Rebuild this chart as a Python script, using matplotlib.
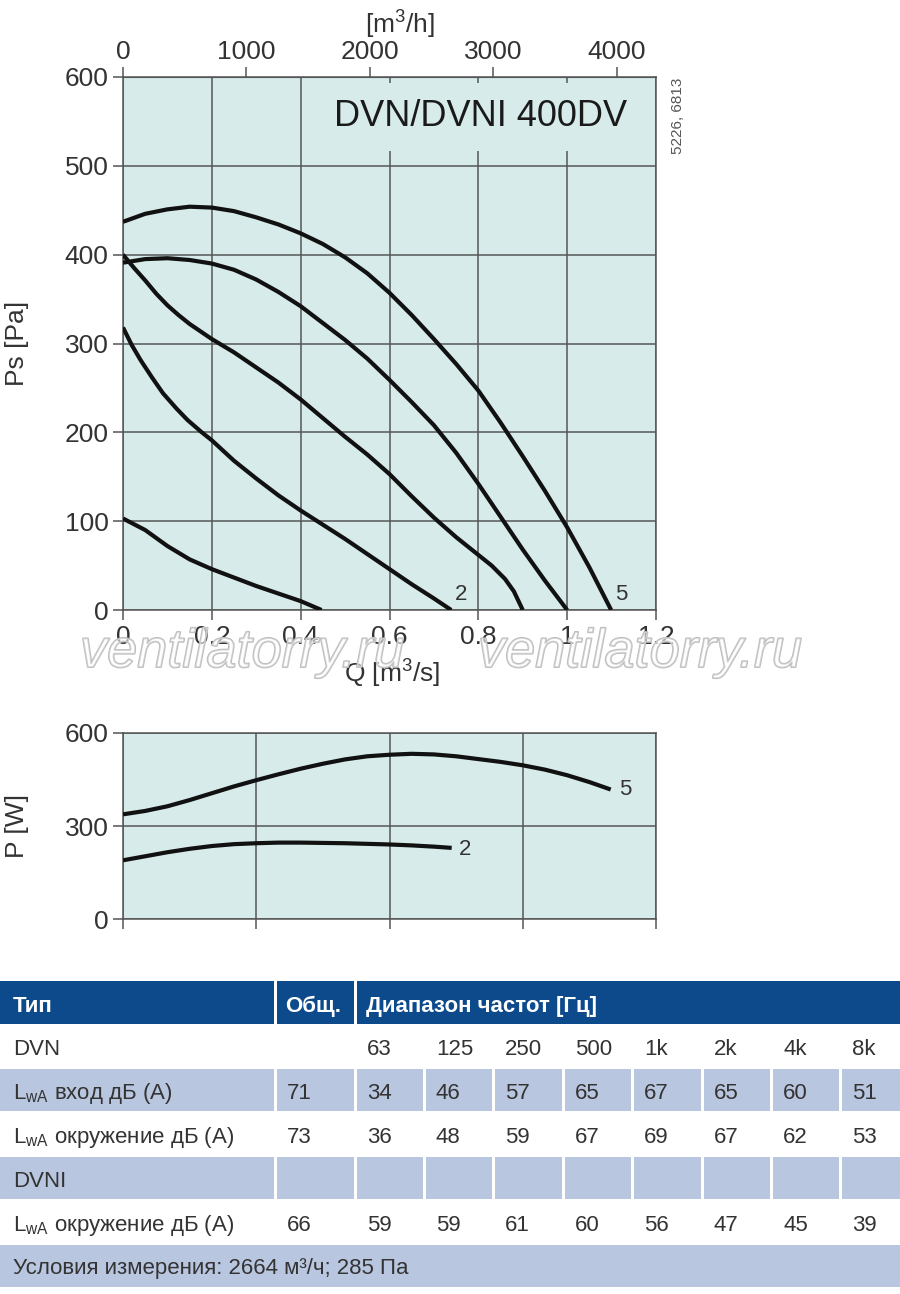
import matplotlib
matplotlib.use('Agg')
import matplotlib.pyplot as plt
import matplotlib.patheffects as pe
from matplotlib.patches import Rectangle

plt.rcParams['font.family'] = ['Liberation Sans', 'DejaVu Sans']
plt.rcParams['mathtext.fontset'] = 'custom'
plt.rcParams['mathtext.rm'] = 'Liberation Sans'
plt.rcParams['mathtext.it'] = 'Liberation Sans:italic'

# --- fan curves: Q [m3/s] -> Ps [Pa], read from the sheet ---
q_c1 = [0, 0.05, 0.1, 0.15, 0.2, 0.25, 0.3, 0.35, 0.4, 0.447]
ps_c1 = [103, 90, 72, 57, 46, 36.5, 27, 18.5, 10, 0]

q_c2 = [0, 0.02, 0.04, 0.065, 0.09, 0.12, 0.145, 0.175, 0.2, 0.25, 0.3, 0.35, 0.4,
        0.45, 0.5, 0.55, 0.6, 0.65, 0.7, 0.739]
ps_c2 = [318, 298, 281, 262, 244, 227, 214, 201, 191, 168, 148, 129, 112,
         96, 80, 63, 46, 29, 13, 0]

q_c3 = [0, 0.025, 0.05, 0.075, 0.1, 0.125, 0.15, 0.2, 0.25, 0.3, 0.35, 0.4, 0.45,
        0.5, 0.55, 0.6, 0.65, 0.7, 0.75, 0.8, 0.83, 0.86, 0.88, 0.9]
ps_c3 = [400, 385, 371, 356, 343, 332, 322, 305, 290, 273, 256, 237, 216,
         195, 175, 153, 128, 104, 82, 62, 50, 35, 21, 0]

q_c4 = [0, 0.05, 0.1, 0.15, 0.2, 0.25, 0.3, 0.35, 0.4, 0.45, 0.5, 0.55, 0.6,
        0.65, 0.7, 0.75, 0.8, 0.85, 0.9, 0.95, 1.0]
ps_c4 = [391, 395, 396, 394, 390, 383, 372, 358, 342, 323, 304, 283, 259,
         234, 208, 177, 142, 105, 68, 33, 0]

q_c5 = [0, 0.05, 0.1, 0.15, 0.2, 0.25, 0.3, 0.35, 0.4, 0.45, 0.5, 0.55, 0.6,
        0.65, 0.7, 0.75, 0.8, 0.85, 0.9, 0.95, 1.0, 1.05, 1.099]
ps_c5 = [437, 446, 451, 454, 453, 449, 442, 434, 424, 412, 397, 379, 357,
         332, 305, 277, 247, 211, 173, 134, 93, 48, 0]

# --- power curves: Q [m3/s] -> P [W] ---
q_p2 = [0, 0.05, 0.1, 0.15, 0.2, 0.25, 0.3, 0.35, 0.4, 0.45, 0.5, 0.55, 0.6, 0.65, 0.7, 0.74]
p_p2 = [190, 203, 216, 227, 236, 242, 245, 247, 247, 246, 245, 243, 241, 238, 234, 230]

q_p5 = [0, 0.05, 0.1, 0.15, 0.2, 0.25, 0.3, 0.35, 0.4, 0.45, 0.5, 0.55, 0.6, 0.65,
        0.7, 0.75, 0.8, 0.85, 0.9, 0.95, 1.0, 1.05, 1.098]
p_p5 = [338, 349, 364, 384, 406, 428, 448, 467, 485, 501, 515, 525, 530, 533,
        531, 525, 516, 507, 496, 482, 464, 442, 418]

q_ticks = [0, 0.2, 0.4, 0.6, 0.8, 1.0, 1.2]
q_labels = ['0', '0.2', '0.4', '0.6', '0.8', '1', '1.2']
m3h_ticks = [0, 1000, 2000, 3000, 4000]

# --- sound table ---
freqs = ['63', '125', '250', '500', '1k', '2k', '4k', '8k']
dvn_inlet_total = '71'
dvn_inlet = [34, 46, 57, 65, 67, 65, 60, 51]
dvn_env_total = '73'
dvn_env = [36, 48, 59, 67, 69, 67, 62, 53]
dvni_env_total = '66'
dvni_env = [59, 59, 61, 60, 56, 47, 45, 39]

W, H = 900, 1294
bg = '#d7ebeb'
grid_c = '#555555'
txt_c = '#333333'

fig = plt.figure(figsize=(W / 100, H / 100), dpi=100)

# ---------------- pressure chart ----------------
ax = fig.add_axes([123 / W, 1 - 610 / H, 533 / W, 533 / H])
ax.set_facecolor(bg)
for q, ps in [(q_c1, ps_c1), (q_c2, ps_c2), (q_c3, ps_c3), (q_c4, ps_c4), (q_c5, ps_c5)]:
    ax.plot(q, ps, color='#111111', lw=3, solid_capstyle='butt',
            solid_joinstyle='round', zorder=4)
ax.set_xlim(0, 1.2)
ax.set_ylim(0, 600)
ax.set_xticks(q_ticks)
ax.set_xticklabels(q_labels)
ax.set_yticks(range(0, 601, 100))
ax.grid(True, color=grid_c, lw=1.1)
for s in ax.spines.values():
    s.set_color(grid_c)
    s.set_linewidth(1.1)
ax.tick_params(direction='out', length=7.5, width=1.1, color=grid_c,
               labelcolor=txt_c, labelsize=19, pad=3)

sec = ax.secondary_xaxis('top', functions=(lambda q: q * 3600, lambda v: v / 3600))
sec.set_xticks(m3h_ticks)
sec.tick_params(direction='out', length=7.5, width=1.1, color=grid_c,
                labelcolor=txt_c, labelsize=19, pad=2)
sec.spines['top'].set_color(grid_c)

ax.text(0.9456, 0.925, 'DVN/DVNI 400DV', transform=ax.transAxes, ha='right', va='center',
        fontsize=26, color='#1a1a1a', zorder=3,
        bbox=dict(boxstyle='square,pad=0.45', fc=bg, ec='none'))
ax.text(0.762, 17, '2', fontsize=16, color=txt_c, ha='center', va='center', zorder=5)
ax.text(1.122, 17, '5', fontsize=16, color=txt_c, ha='center', va='center', zorder=5)

fig.text(400 / W, 1 - 25 / H, '[m$^3$/h]', ha='center', va='center', fontsize=19, color=txt_c)
fig.text(17 / W, 1 - 343 / H, 'Ps [Pa]', rotation=90, ha='center', va='center',
         fontsize=19, color=txt_c)
fig.text(392 / W, 1 - 674 / H, 'Q [m$^3$/s]', ha='center', va='center', fontsize=19, color=txt_c)
fig.text(678 / W, 1 - 116 / H, '5226, 6813', rotation=90, ha='center', va='center',
         fontsize=11, color='#555555')

# watermark
for x0 in (80, 478):
    fig.text(x0 / W, 1 - 667 / H, 'ventilatorry.ru', ha='left', va='baseline',
             fontsize=39, style='italic', color=(1, 1, 1, 0.35), zorder=10,
             path_effects=[pe.withStroke(linewidth=1.3, foreground='#bcbcbc')])

# ---------------- power chart ----------------
axp = fig.add_axes([123 / W, 1 - 919.3 / H, 533 / W, 186.3 / H])
axp.set_facecolor(bg)
axp.plot(q_p2, p_p2, color='#111111', lw=3, solid_capstyle='butt',
         solid_joinstyle='round', zorder=4)
axp.plot(q_p5, p_p5, color='#111111', lw=3, solid_capstyle='butt',
         solid_joinstyle='round', zorder=4)
axp.set_xlim(0, 1.2)
axp.set_ylim(0, 600)
axp.set_xticks([0, 0.3, 0.6, 0.9, 1.2])
axp.set_xticklabels([])
axp.set_yticks([0, 300, 600])
axp.grid(True, color=grid_c, lw=1.1)
for s in axp.spines.values():
    s.set_color(grid_c)
    s.set_linewidth(1.1)
axp.tick_params(direction='out', length=7.5, width=1.1, color=grid_c,
                labelcolor=txt_c, labelsize=19, pad=3)
axp.text(0.77, 226, '2', fontsize=16, color=txt_c, ha='center', va='center')
axp.text(1.13, 417, '5', fontsize=16, color=txt_c, ha='center', va='center')
fig.text(17 / W, 1 - 826 / H, 'P [W]', rotation=90, ha='center', va='center',
         fontsize=19, color=txt_c)

# ---------------- table ----------------
tab = fig.add_axes([0, 0, 1, 1])
tab.set_xlim(0, W)
tab.set_ylim(H, 0)
tab.axis('off')

navy = '#0d4a8b'
shade = '#b9c6df'
col_x0 = [0, 277, 357, 426, 495, 565, 634, 704, 773, 842]
col_x1 = [274, 354, 423, 492, 562, 631, 701, 770, 839, 900]

# header
hy0, hy1 = 981, 1024
for x0, x1 in [(0, 274), (277, 354), (357, 900)]:
    tab.add_patch(Rectangle((x0, hy0), x1 - x0, hy1 - hy0, fc=navy, ec='none'))
tab.text(13, hy0 + 31, 'Тип', color='white', fontsize=16, fontweight='bold', va='baseline')
tab.text(285, hy0 + 31, 'Общ.', color='white', fontsize=16, fontweight='bold', va='baseline')
tab.text(366, hy0 + 31, 'Диапазон частот [Гц]', color='white', fontsize=16,
         fontweight='bold', va='baseline')

lwa = r'L$_{\mathrm{wA}}$'
rows = [
    ('DVN', '', freqs, False),
    (lwa + ' вход дБ (А)', dvn_inlet_total, dvn_inlet, True),
    (lwa + ' окружение дБ (А)', dvn_env_total, dvn_env, False),
    ('DVNI', '', ['' for _ in freqs], True),
    (lwa + ' окружение дБ (А)', dvni_env_total, dvni_env, False),
]
row_h = 44
y0 = 1024
for name, total, vals, shaded in rows:
    if shaded:
        for x0, x1 in zip(col_x0, col_x1):
            tab.add_patch(Rectangle((x0, y0 + 1), x1 - x0, row_h - 2, fc=shade, ec='none'))
    cells = [name, total] + [str(v) for v in vals]
    for i, c in enumerate(cells):
        tx = 13 if i == 0 else col_x0[i] + 10
        tab.text(tx, y0 + 31, c, color=txt_c, fontsize=16, va='baseline')
    y0 += row_h

tab.add_patch(Rectangle((0, y0 + 1), W, row_h - 2, fc=shade, ec='none'))
tab.text(13, y0 + 30, 'Условия измерения: 2664 м³/ч; 285 Па', color=txt_c,
         fontsize=16, va='baseline')

fig.savefig('out.png', dpi=100)
